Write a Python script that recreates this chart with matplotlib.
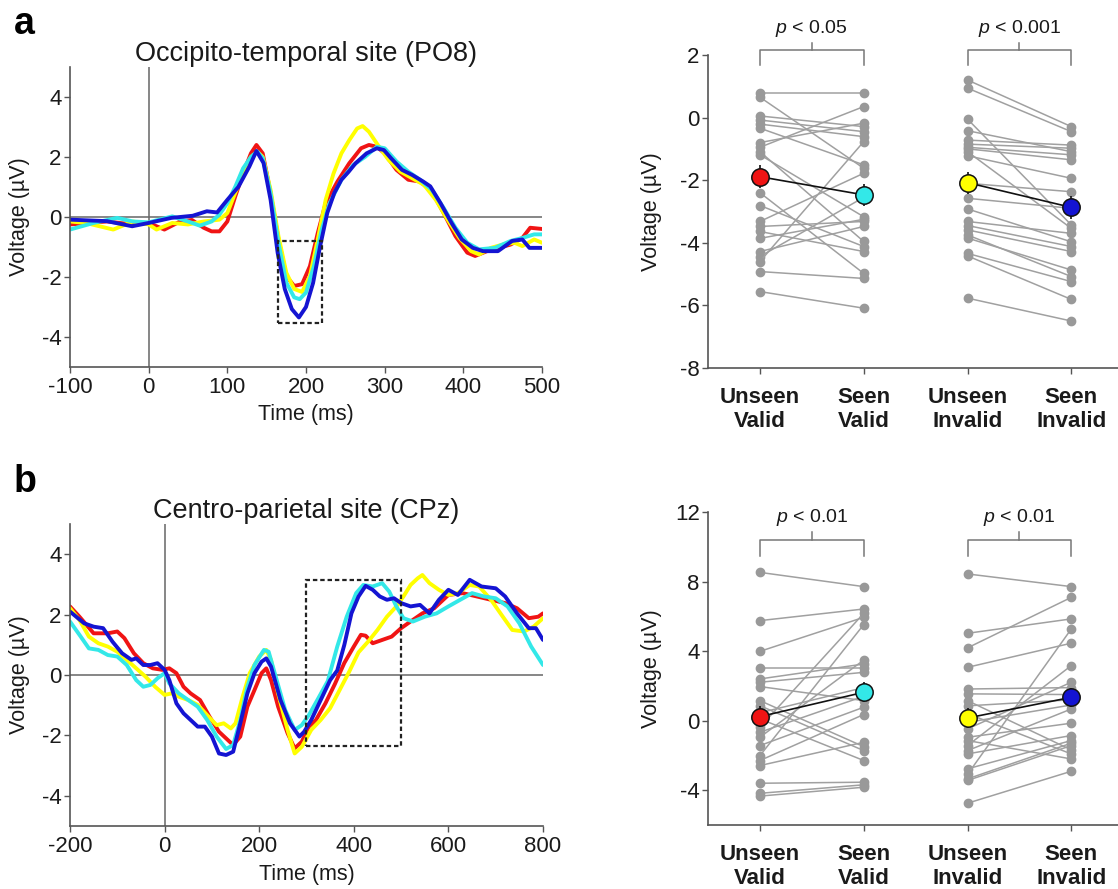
""" Figure ERP : ondes moyennes (PO8, CPz) et amplitudes individuelles
par condition (Unseen/Seen x Valid/Invalid). """

import matplotlib.pyplot as plt
from matplotlib.patches import Rectangle

plt.rcParams['font.family'] = ['Liberation Sans', 'DejaVu Sans']
plt.rcParams['mathtext.fontset'] = 'custom'
plt.rcParams['mathtext.it'] = 'Liberation Sans:italic'
plt.rcParams['mathtext.rm'] = 'Liberation Sans'
plt.rcParams['axes.unicode_minus'] = False

# Couleurs des conditions
ROUGE = '#f01414'
CYAN = '#33e8e8'
JAUNE = '#ffff00'
BLEU = '#1414d2'
GRIS = '#a0a0a0'
AXE = '#555555'
TEXTE = '#1a1a1a'

# ---- Données : site occipito-temporal (PO8) ----
po8_t_rouge = [-100, -53, -20, 0, 20, 40, 55, 70, 80, 90, 100, 110, 120, 130, 137, 145, 155, 165, 175, 185,
               195, 205, 215, 225, 240, 255, 270, 280, 290, 300, 315, 330, 345, 360, 375, 390, 405, 415, 430, 445,
               460, 475, 485, 500]
po8_v_rouge = [-0.25, -0.15, -0.25, -0.2, -0.42, -0.15, -0.1, -0.36, -0.48, -0.48, -0.15, 0.68, 1.45, 2.12, 2.4, 2.12,
               0.8, -0.75, -1.97, -2.3, -2.24, -1.64, -0.53, 0.46, 1.18, 1.79, 2.29, 2.4, 2.34, 2.12, 1.57, 1.24,
               1.18, 0.85, 0.13, -0.64, -1.19, -1.3, -1.14, -1.03, -0.92, -0.7, -0.36, -0.4]
po8_t_jaune = [-100, -80, -45, -20, 0, 10, 30, 50, 70, 90, 100, 110, 120, 130, 138, 145, 155, 165, 175, 185,
               195, 205, 215, 225, 235, 245, 255, 265, 272, 280, 290, 305, 320, 335, 350, 365, 380, 395, 410, 420,
               435, 450, 465, 475, 490, 500]
po8_v_jaune = [-0.15, -0.2, -0.42, -0.15, -0.25, -0.42, -0.2, -0.25, -0.15, -0.09, 0.13, 0.8, 1.45, 2.0, 2.18, 2.0,
               0.9, -0.64, -1.86, -2.4, -2.5, -1.97, -0.75, 0.57, 1.45, 2.12, 2.56, 2.95, 3.03, 2.84, 2.45, 1.9,
               1.51, 1.29, 1.07, 0.57, -0.09, -0.7, -1.14, -1.25, -1.03, -0.92, -0.86, -0.97, -0.75, -0.86]
po8_t_cyan = [-100, -70, -40, -20, 0, 30, 50, 65, 80, 90, 100, 110, 120, 130, 138, 145, 155, 165, 175, 185,
              192, 200, 210, 220, 230, 245, 260, 275, 290, 300, 315, 330, 345, 360, 375, 390, 405, 420, 440, 460,
              475, 490, 500]
po8_v_cyan = [-0.42, -0.2, -0.03, -0.15, -0.18, 0.02, -0.15, -0.29, -0.15, 0.08, 0.46, 1.0, 1.62, 2.0, 2.18, 1.96,
              0.8, -0.86, -2.19, -2.68, -2.74, -2.52, -1.64, -0.42, 0.46, 1.24, 1.73, 2.0, 2.34, 2.29, 1.85, 1.51,
              1.24, 0.9, 0.3, -0.36, -0.86, -1.08, -1.03, -0.8, -0.7, -0.58, -0.58]
po8_t_bleu = [-100, -53, -21, 0, 29, 56, 74, 87, 100, 114, 128, 137, 146, 155, 164, 173, 182, 191, 200, 209,
              218, 227, 236, 245, 254, 263, 277, 290, 299, 308, 322, 335, 349, 358, 371, 385, 398, 412, 425, 444,
              462, 475, 484, 500]
po8_v_bleu = [-0.09, -0.14, -0.31, -0.2, -0.03, 0.04, 0.19, 0.15, 0.57, 1.0, 1.68, 2.2, 1.8, 0.57, -1.2, -2.4,
              -3.07, -3.35, -3.0, -2.2, -0.97, 0.13, 0.8, 1.24, 1.5, 1.79, 2.12, 2.29, 2.23, 1.96, 1.57, 1.4,
              1.18, 1.02, 0.46, -0.2, -0.75, -1.03, -1.14, -1.14, -0.8, -0.75, -1.03, -1.03]
po8_fenetre = [165, 220, -3.52, -0.79]  # t0, t1, v0, v1

# ---- Données : site centro-pariétal (CPz) ----
cpz_t_rouge = [-200, -180, -150, -120, -100, -85, -65, -45, -25, -5, 10, 25, 40, 55, 75, 95, 115, 130, 145, 160,
               175, 190, 205, 215, 225, 240, 260, 275, 290, 305, 320, 340, 360, 380, 400, 415, 425, 440, 460, 480,
               500, 520, 545, 570, 600, 630, 660, 690, 720, 745, 770, 790, 800]
cpz_v_rouge = [2.27, 1.93, 1.38, 1.38, 1.44, 1.22, 0.72, 0.39, 0.22, 0.17, 0.22, 0.06, -0.39, -0.61, -0.83, -1.38,
               -1.88, -2.1, -2.32, -2.04, -1.05, -0.5, 0.06, 0.22, -0.17, -1.05, -1.93, -2.43, -2.21, -1.71,
               -1.49, -0.94, -0.3, 0.4, 0.94, 1.33, 1.3, 1.05, 1.16, 1.27, 1.55, 1.77, 2.04, 2.21, 2.65, 2.71,
               2.6, 2.49, 2.38, 2.21, 1.88, 1.93, 2.04]
cpz_t_jaune = [-200, -180, -160, -140, -120, -100, -80, -60, -40, -20, 0, 15, 30, 50, 70, 90, 110, 125, 140, 150,
               165, 180, 200, 215, 225, 240, 260, 275, 290, 310, 330, 350, 370, 390, 410, 430, 450, 470, 490, 505,
               520, 535, 545, 560, 580, 600, 620, 645, 665, 690, 715, 735, 760, 780, 800]
cpz_v_jaune = [2.21, 1.82, 1.27, 1.05, 0.94, 0.77, 0.5, 0.22, -0.06, -0.39, -0.66, -0.61, -0.72, -0.83, -0.99,
               -1.33, -1.66, -1.6, -1.77, -1.6, -0.72, 0.06, 0.61, 0.83, 0.5, -0.61, -1.82, -2.6, -2.38, -1.82,
               -1.49, -1.1, -0.5, 0.1, 0.75, 1.1, 1.49, 1.93, 2.27, 2.6, 2.98, 3.2, 3.31, 3.04, 2.82, 2.65, 2.71,
               2.98, 2.93, 2.49, 1.93, 1.49, 1.44, 1.6, 1.88]
cpz_t_cyan = [-200, -180, -160, -140, -120, -100, -80, -60, -45, -30, -15, 0, 10, 30, 50, 70, 90, 110, 130, 145,
              160, 175, 190, 210, 220, 235, 255, 275, 290, 305, 325, 345, 365, 385, 405, 420, 440, 460, 475, 490,
              505, 525, 550, 575, 600, 625, 650, 675, 700, 725, 750, 775, 800]
cpz_v_cyan = [1.77, 1.33, 0.88, 0.83, 0.66, 0.61, 0.33, -0.17, -0.39, -0.33, -0.11, 0.06, -0.28, -0.61, -0.83,
              -1.05, -1.49, -2.04, -2.45, -2.32, -1.49, -0.39, 0.33, 0.83, 0.77, -0.06, -1.16, -1.82, -1.66,
              -1.33, -0.77, -0.2, 0.94, 1.93, 2.71, 2.98, 2.93, 3.04, 2.76, 2.27, 1.88, 1.77, 1.93, 2.04, 2.27,
              2.49, 2.71, 2.6, 2.54, 2.27, 1.71, 0.94, 0.33]
cpz_t_bleu = [-200, -170, -150, -130, -110, -90, -70, -60, -45, -30, -15, 0, 10, 25, 40, 55, 70, 85, 100, 115,
              130, 145, 160, 175, 190, 205, 215, 225, 245, 265, 285, 295, 310, 330, 350, 365, 380, 395, 410, 425,
              440, 455, 470, 485, 500, 520, 540, 560, 580, 600, 620, 645, 670, 700, 720, 745, 770, 785, 800]
cpz_v_bleu = [2.1, 1.71, 1.6, 1.55, 1.1, 0.72, 0.5, 0.55, 0.33, 0.33, 0.39, 0.17, -0.17, -0.94, -1.27, -1.49,
              -1.71, -1.71, -2.04, -2.6, -2.65, -2.54, -1.6, -0.61, 0.06, 0.44, 0.55, 0.28, -0.83, -1.6, -2.04,
              -1.88, -1.49, -0.83, -0.17, 0.15, 1.0, 2.04, 2.6, 2.95, 2.82, 2.6, 2.49, 2.54, 2.38, 2.27, 2.32,
              2.04, 2.49, 2.82, 2.65, 3.15, 2.93, 2.87, 2.6, 2.04, 1.55, 1.55, 1.16]
cpz_fenetre = [300, 500, -2.34, 3.15]

# ---- Données individuelles (µV), appariées sujet par sujet ----
conditions = ['Unseen\nValid', 'Seen\nValid', 'Unseen\nInvalid', 'Seen\nInvalid']
couleurs_cond = [ROUGE, CYAN, JAUNE, BLEU]
couleurs_label = ['#ee1c1c', '#2ee6e6', '#f2f21a', '#1c1cd0']

po8_unseen_valid = [0.78, 0.65, 0.05, -0.08, -0.21, -0.34, -0.80, -0.95, -1.09, -1.19, -2.40, -2.81, -3.32, -3.48,
                    -3.64, -3.86, -4.28, -4.44, -4.60, -4.92, -5.56]
po8_seen_valid = [0.78, -1.62, -0.29, -0.45, -0.61, -1.51, -0.18, 0.35, -3.96, -3.17, -4.98, -4.12, -1.78, -3.32,
                  -4.28, -3.25, -3.48, -2.55, -0.77, -5.14, -6.09]
po8_unseen_invalid = [1.20, 0.94, -0.05, -0.42, -0.72, -0.85, -0.95, -1.00, -1.09, -1.22, -2.10, -2.58, -2.92,
                      -3.32, -3.45, -3.59, -3.75, -3.85, -4.34, -4.42, -5.77]
po8_seen_invalid = [-0.29, -0.45, -3.43, -1.09, -0.88, -0.98, -1.19, -1.35, -3.54, -1.94, -2.37, -2.90, -3.97,
                    -3.70, -4.12, -4.28, -5.08, -4.87, -5.24, -5.81, -6.50]
po8_moyennes = [-1.89, -2.47, -2.08, -2.87]
po8_sem = [0.37, 0.36, 0.35, 0.36]

cpz_unseen_valid = [8.54, 5.76, 3.99, 3.03, 2.40, 2.21, 1.96, 1.15, 0.86, 0.45, 0.10, -0.38, -0.67, -0.96, -1.44,
                    -2.02, -2.30, -2.59, -3.61, -4.19, -4.35]
cpz_seen_valid = [7.72, 6.43, 5.95, 3.03, 3.26, 2.78, 1.15, -1.50, -1.73, 1.90, -2.30, 6.18, 1.40, 3.49, 0.77,
                  5.53, 0.35, -1.25, -3.55, -3.70, -3.84]
cpz_unseen_invalid = [8.45, 5.03, 4.19, 3.07, 1.82, 1.54, 1.15, 0.85, 0.40, -0.10, -0.48, -0.96, -1.15, -1.44,
                      -1.73, -1.92, -2.78, -3.10, -3.36, -3.45, -4.76]
cpz_seen_invalid = [7.72, 5.86, 7.10, 4.46, 1.90, 1.50, -1.69, 1.20, -1.92, 0.90, 2.21, -0.15, -2.21, 3.17, 0.67,
                    -0.86, -1.15, 5.28, -1.30, -1.44, -2.92]
cpz_moyennes = [0.23, 1.63, 0.15, 1.34]
cpz_sem = [0.62, 0.58, 0.55, 0.55]

p_po8 = [r'$\it{p}$ < 0.05', r'$\it{p}$ < 0.001']
p_cpz = [r'$\it{p}$ < 0.01', r'$\it{p}$ < 0.01']


def style_axes(ax):
    """ Axes à la MATLAB : seulement gauche et bas, ticks vers l'extérieur. """
    for cote in ['top', 'right']:
        ax.spines[cote].set_visible(False)
    for cote in ['left', 'bottom']:
        ax.spines[cote].set_color(AXE)
        ax.spines[cote].set_linewidth(1.2)
    ax.tick_params(direction='out', length=4, width=1, color=AXE, labelsize=16,
                   labelcolor=TEXTE, pad=2)


def graph_erp(ax, courbes, xlim, xticks, fenetre, titre):
    """ Trace les ERP moyens des 4 conditions avec la fenêtre d'analyse. """
    ax.axhline(0, color='#666666', lw=1.1, zorder=1)
    ax.axvline(0, color='#666666', lw=1.1, zorder=1)
    for t, v, c in courbes:
        ax.plot(t, v, color=c, lw=2.8, solid_joinstyle='round', solid_capstyle='round', zorder=2)
    t0, t1, v0, v1 = fenetre
    ax.add_patch(Rectangle((t0, v0), t1 - t0, v1 - v0, fill=False, ec='#222222',
                           lw=1.6, ls=(0, (2, 1.3)), zorder=3))
    ax.set_xlim(xlim)
    ax.set_ylim(-5, 5)
    ax.set_xticks(xticks)
    ax.set_yticks([-4, -2, 0, 2, 4])
    ax.set_title(titre, fontsize=19.5, pad=4, color=TEXTE)
    ax.set_xlabel('Time (ms)', fontsize=15.5, color=TEXTE)
    ax.set_ylabel('Voltage (µV)', fontsize=15.5, color=TEXTE)
    ax.xaxis.set_label_coords(0.5, -0.125)
    ax.yaxis.set_label_coords(-0.085, 0.5)
    style_axes(ax)
    ax.tick_params(axis='x', pad=3)


def graph_paires(ax, series, moyennes, sem, ylim, yticks, crochet, textes_p):
    """ Points individuels reliés par sujet, moyennes +/- SEM en couleur. """
    positions = [1, 2, 3, 4]
    for (i, j) in [(0, 1), (2, 3)]:
        for a, b in zip(series[i], series[j]):
            ax.plot([positions[i], positions[j]], [a, b], color=GRIS, lw=1.1, marker='o', ms=6,
                    mfc='#999999', mec='#999999', zorder=2)
        # lien entre les moyennes
        ax.plot([positions[i], positions[j]], [moyennes[i], moyennes[j]], color='#111111', lw=1.2, zorder=3)
    ax.errorbar(positions, moyennes, yerr=sem, fmt='none', ecolor='#111111', elinewidth=1.2, capsize=0, zorder=3)
    for x, m, c in zip(positions, moyennes, couleurs_cond):
        ax.plot(x, m, 'o', ms=12.5, mfc=c, mec='#111111', mew=1.1, zorder=4)

    # crochets de significativité
    haut, bas, pointe, y_texte = crochet
    for (i, j), texte in zip([(0, 1), (2, 3)], textes_p):
        x1, x2 = positions[i], positions[j]
        ax.plot([x1, x1, x2, x2], [bas, haut, haut, bas], color='#777777', lw=1.1, clip_on=False)
        ax.plot([(x1 + x2) / 2, (x1 + x2) / 2], [haut, pointe], color='#777777', lw=1.1, clip_on=False)
        ax.text((x1 + x2) / 2, y_texte, texte, ha='center', va='center', fontsize=14, color=TEXTE)

    ax.set_xlim(0.5, 4.45)
    ax.set_ylim(ylim)
    ax.set_yticks(yticks)
    ax.set_xticks(positions)
    ax.set_xticklabels(conditions, fontweight='bold', fontsize=15.5, linespacing=1.15)
    for lbl, c in zip(ax.get_xticklabels(), couleurs_label):
        lbl.set_color(c)
    ax.set_ylabel('Voltage (µV)', fontsize=15.5, color=TEXTE)
    ax.yaxis.set_label_coords(-0.113, 0.5)
    style_axes(ax)
    ax.tick_params(axis='x', pad=10)


fig = plt.figure(figsize=(11.18, 8.89), dpi=100)

ax_a1 = fig.add_axes([0.0626, 0.5872, 0.4222, 0.3375])
ax_a2 = fig.add_axes([0.6333, 0.5861, 0.3667, 0.3521])
ax_b1 = fig.add_axes([0.0626, 0.0709, 0.4231, 0.3397])
ax_b2 = fig.add_axes([0.6333, 0.0723, 0.3667, 0.3514])

graph_erp(ax_a1,
          [(po8_t_rouge, po8_v_rouge, ROUGE), (po8_t_jaune, po8_v_jaune, JAUNE),
           (po8_t_cyan, po8_v_cyan, CYAN), (po8_t_bleu, po8_v_bleu, BLEU)],
          (-100, 500), [-100, 0, 100, 200, 300, 400, 500], po8_fenetre,
          'Occipito-temporal site (PO8)')
graph_erp(ax_b1,
          [(cpz_t_rouge, cpz_v_rouge, ROUGE), (cpz_t_jaune, cpz_v_jaune, JAUNE),
           (cpz_t_cyan, cpz_v_cyan, CYAN), (cpz_t_bleu, cpz_v_bleu, BLEU)],
          (-200, 800), [-200, 0, 200, 400, 600, 800], cpz_fenetre,
          'Centro-parietal site (CPz)')

graph_paires(ax_a2, [po8_unseen_valid, po8_seen_valid, po8_unseen_invalid, po8_seen_invalid],
             po8_moyennes, po8_sem, (-8, 2), [-8, -6, -4, -2, 0, 2], (2.16, 1.68, 2.38, 2.83), p_po8)
graph_paires(ax_b2, [cpz_unseen_valid, cpz_seen_valid, cpz_unseen_invalid, cpz_seen_invalid],
             cpz_moyennes, cpz_sem, (-6, 12), [-4, 0, 4, 8, 12], (10.43, 9.5, 10.85, 11.7), p_cpz)

fig.text(14 / 1118, 1 - 34 / 889, 'a', fontsize=27, fontweight='bold', va='baseline', ha='left')
fig.text(14 / 1118, 1 - 492 / 889, 'b', fontsize=27, fontweight='bold', va='baseline', ha='left')

fig.savefig('out.png', dpi=100)
